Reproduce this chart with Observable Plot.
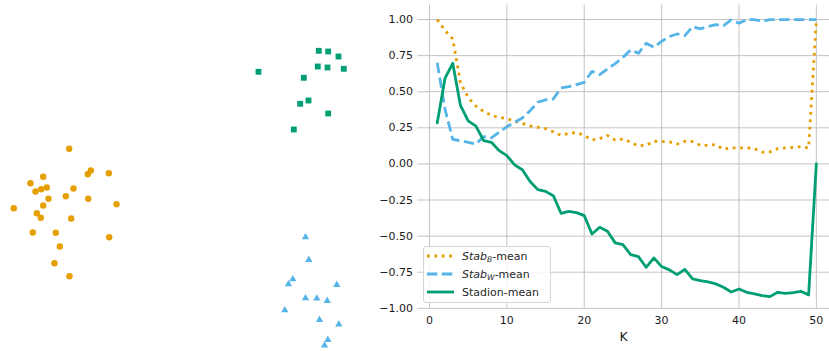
<!DOCTYPE html>
<html>
<head>
<meta charset="utf-8">
<script src="https://cdn.jsdelivr.net/npm/d3@7"></script>
<script src="https://cdn.jsdelivr.net/npm/@observablehq/plot@0.6"></script>
<style>
  html, body { margin: 0; padding: 0; background: #fff; }
  #wrap { position: relative; width: 829px; height: 351px; font-family: "DejaVu Sans", sans-serif; }
  #left { position: absolute; left: 0; top: 0; }
  #right { position: absolute; left: 380px; top: 0; }
  #right [aria-label="x-axis label"] text { font-size: 12.5px; }
  #legend { position: absolute; left: 423px; top: 246px; width: 126px; height: 55px;
    border: 1px solid #d6d6d6; border-radius: 3px; background: rgba(255,255,255,0.85);
    font-size: 11px; color: #262626; }
  .row { position: absolute; left: 3px; height: 16px; display: flex; align-items: center; }
  .row svg { width: 27px; height: 10px; margin-right: 8px; }
  sub { font-size: 0.7em; vertical-align: -0.25em; line-height: 0; }
</style>
</head>
<body>
<div id="wrap">
  <div id="left"></div>
  <div id="right"></div>
  <div id="legend">
    <div class="row" style="top:1px"><svg><line x1="0" y1="5" x2="27" y2="5" stroke="#E69F00" stroke-width="2.8" stroke-dasharray="2.8,4.6"/></svg><span><i>Stab</i><sub><i>B</i></sub>-mean</span></div>
    <div class="row" style="top:19px"><svg><line x1="0" y1="5" x2="27" y2="5" stroke="#56B4E9" stroke-width="2.8" stroke-dasharray="10.4,4.5"/></svg><span><i>Stab</i><sub><i>W</i></sub>-mean</span></div>
    <div class="row" style="top:37px"><svg><line x1="0" y1="5" x2="27" y2="5" stroke="#009E73" stroke-width="2.8"/></svg><span>Stadion-mean</span></div>
  </div>
</div>
<script>
// ---- Left panel: 2-D embedding of three clusters (arbitrary units) ----
const clusterA_x = [6.87, 9.03, 8.73, 10.83, 4.27, 3.00, 4.63, 4.07, 3.50, 7.30, 6.53, 4.80, 8.77, 11.60, 1.33, 4.27, 3.63, 4.03, 7.07, 3.23, 5.53, 10.87, 5.93, 5.40, 6.90];
const clusterA_y = [20.27, 18.10, 17.73, 17.83, 17.47, 16.83, 16.40, 16.23, 16.00, 16.30, 15.53, 15.27, 15.27, 14.73, 14.33, 14.60, 13.83, 13.37, 13.30, 11.90, 11.87, 11.43, 10.50, 8.83, 7.53];
const clusterB_x = [31.83, 32.77, 33.80, 25.80, 31.73, 32.70, 34.33, 30.33, 30.80, 29.97, 32.77, 29.33];
const clusterB_y = [30.07, 30.00, 29.50, 27.97, 28.50, 28.40, 28.27, 27.37, 25.10, 24.77, 23.80, 22.20];
const clusterC_x = [30.50, 30.83, 29.23, 28.80, 33.63, 30.50, 31.63, 32.67, 28.43, 31.90, 33.83, 32.73, 32.40];
const clusterC_y = [11.43, 9.17, 7.23, 6.73, 6.67, 5.33, 5.30, 5.07, 4.13, 3.17, 2.70, 1.17, 0.60];

const scatter = [
  ...clusterA_x.map((x, i) => ({x, y: clusterA_y[i], c: "A"})),
  ...clusterB_x.map((x, i) => ({x, y: clusterB_y[i], c: "B"})),
  ...clusterC_x.map((x, i) => ({x, y: clusterC_y[i], c: "C"}))
];

// ---- Right panel: stability scores vs K ----
const K = [1,2,3,4,5,6,7,8,9,10,11,12,13,14,15,16,17,18,19,20,21,22,23,24,25,26,27,28,29,30,31,32,33,34,35,36,37,38,39,40,41,42,43,44,45,46,47,48,49,50];
const stabB = [1.00,0.925,0.866,0.563,0.46,0.40,0.364,0.335,0.323,0.314,0.295,0.281,0.263,0.254,0.245,0.222,0.198,0.212,0.217,0.198,0.166,0.175,0.198,0.165,0.172,0.15,0.125,0.129,0.157,0.155,0.153,0.138,0.157,0.155,0.129,0.129,0.134,0.101,0.111,0.111,0.111,0.106,0.081,0.083,0.106,0.111,0.115,0.12,0.11,1.0];
const stabW = [0.70,0.38,0.17,0.161,0.15,0.138,0.189,0.18,0.219,0.258,0.288,0.318,0.369,0.427,0.443,0.450,0.526,0.535,0.549,0.565,0.641,0.618,0.658,0.695,0.738,0.789,0.766,0.835,0.808,0.849,0.882,0.90,0.888,0.951,0.935,0.951,0.965,0.958,0.997,0.974,1.0,1.0,0.988,1.0,1.0,1.0,1.0,1.0,1.0,1.0];
const stadion = [0.285,0.592,0.697,0.405,0.298,0.262,0.161,0.15,0.092,0.057,-0.007,-0.04,-0.122,-0.178,-0.19,-0.22,-0.342,-0.328,-0.337,-0.358,-0.485,-0.439,-0.467,-0.547,-0.559,-0.628,-0.642,-0.716,-0.651,-0.711,-0.734,-0.767,-0.73,-0.797,-0.808,-0.817,-0.831,-0.854,-0.887,-0.866,-0.889,-0.90,-0.912,-0.919,-0.889,-0.896,-0.891,-0.882,-0.907,0.0];
const xTicks = [0, 10, 20, 30, 40, 50];
const yTicks = [-1.0, -0.75, -0.5, -0.25, 0.0, 0.25, 0.5, 0.75, 1.0];

const seriesB = K.map((k, i) => ({k, v: stabB[i]}));
const seriesW = K.map((k, i) => ({k, v: stabW[i]}));
const seriesS = K.map((k, i) => ({k, v: stadion[i]}));

const ORANGE = "#E69F00", BLUE = "#56B4E9", GREEN = "#009E73";

const left = Plot.plot({
  width: 380, height: 351,
  margin: 0,
  x: {domain: [0, 38], axis: null},
  y: {domain: [0, 35.1], axis: null},
  marks: [
    Plot.dot(scatter.filter(d => d.c === "A"), {x: "x", y: "y", r: 3.2, fill: ORANGE, symbol: "circle"}),
    Plot.dot(scatter.filter(d => d.c === "B"), {x: "x", y: "y", r: 3.3, fill: GREEN, symbol: "square"}),
    Plot.dot(scatter.filter(d => d.c === "C"), {x: "x", y: "y", r: 2.7, fill: BLUE, symbol: "triangle"})
  ]
});
document.getElementById("left").appendChild(left);

const right = Plot.plot({
  width: 449, height: 351,
  marginLeft: 37.4, marginRight: 0, marginTop: 4.6, marginBottom: 43.2,
  style: {fontFamily: "DejaVu Sans, sans-serif", fontSize: "11px", color: "#1a1a1a", background: "#fff"},
  x: {domain: [-1.5, 51.7], ticks: xTicks, tickSize: 0, tickPadding: 8, label: "K", labelAnchor: "center", labelArrow: false, labelOffset: 33},
  y: {domain: [-1.0, 1.1], ticks: yTicks, tickSize: 0, tickPadding: 5, tickFormat: d3.format(".2f"), label: null},
  marks: [
    Plot.ruleX(xTicks, {stroke: "#c4c4c4", strokeWidth: 1}),
    Plot.ruleY(yTicks, {stroke: "#c4c4c4", strokeWidth: 1}),
    Plot.line(seriesB, {x: "k", y: "v", stroke: ORANGE, strokeWidth: 2.8, strokeDasharray: "2.8,4.6", strokeLinecap: "butt"}),
    Plot.line(seriesW, {x: "k", y: "v", stroke: BLUE, strokeWidth: 2.8, strokeDasharray: "10.4,4.5", strokeLinecap: "butt"}),
    Plot.line(seriesS, {x: "k", y: "v", stroke: GREEN, strokeWidth: 2.8})
  ]
});
document.getElementById("right").appendChild(right);
</script>
</body>
</html>
